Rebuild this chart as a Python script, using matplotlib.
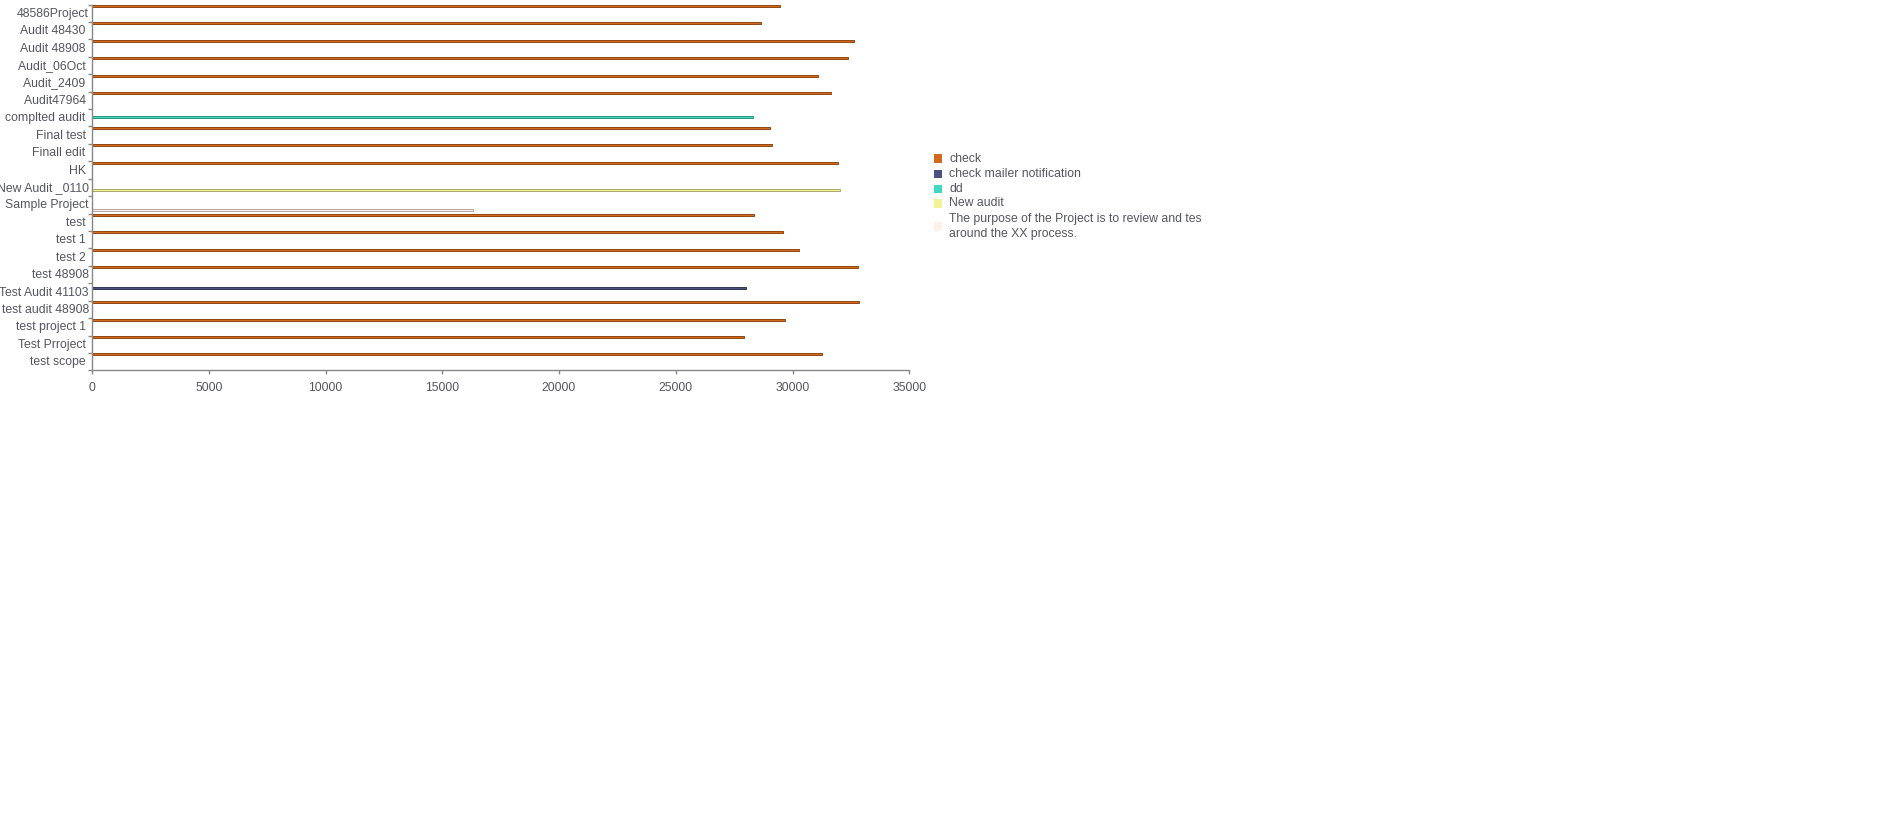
import matplotlib
matplotlib.use("Agg")
import matplotlib.pyplot as plt
from matplotlib.patches import Rectangle
import numpy as np

# ---- data ----
categories = ["48586Project", "Audit 48430 ", "Audit 48908 ", "Audit_06Oct ", "Audit_2409 ",
              "Audit47964 ", "complted audit ", "Final test ", "Finall edit ", "HK ",
              "New Audit _0110", "Sample Project", "test ", "test 1 ", "test 2 ",
              "test 48908", "Test Audit 41103", "test audit 48908", "test project 1 ",
              "Test Prroject ", "test scope "]
series_names = ["check", "check mailer notification", "dd", "New audit",
                "The purpose of the Project is to review and tes\naround the XX process."]
series_colors = ["#d2691e", "#4b5282", "#40d8c0", "#f2f296", "#fff0ea"]

check = [29480, 28660, 32650, 32390, 31100, 31660, 0, 29050, 29140, 31960,
         0, 0, 28360, 29610, 30290, 32820, 0, 32860, 29690, 27940, 31280]
check_mailer = [0, 0, 0, 0, 0, 0, 0, 0, 0, 0,
                0, 0, 0, 0, 0, 0, 28020, 0, 0, 0, 0]
dd = [0, 0, 0, 0, 0, 0, 28320, 0, 0, 0,
      0, 0, 0, 0, 0, 0, 0, 0, 0, 0, 0]
new_audit = [0, 0, 0, 0, 0, 0, 0, 0, 0, 0,
             32030, 0, 0, 0, 0, 0, 0, 0, 0, 0, 0]
purpose = [0, 0, 0, 0, 0, 0, 0, 0, 0, 0,
           0, 16310, 0, 0, 0, 0, 0, 0, 0, 0, 0]
series_values = [check, check_mailer, dd, new_audit, purpose]
x_ticks = [0, 5000, 10000, 15000, 20000, 25000, 30000, 35000]

# ---- layout ----
W, H = 1892, 817
DPI = 100
fig = plt.figure(figsize=(W / DPI, H / DPI), dpi=DPI)
fig.patch.set_facecolor("white")

def px_to_fig(x, y):
    return x / W, 1 - y / H

left_px, right_px, top_px, bottom_px = 92, 909.3, 4.5, 370.5
ax = fig.add_axes([left_px / W, 1 - bottom_px / H,
                   (right_px - left_px) / W, (bottom_px - top_px) / H])

FONT = "Liberation Sans"
FS = 12.2 * 72 / DPI
TXT = "#555560"
AXC = "#888888"

n = len(categories)
band_px = (bottom_px - top_px) / n

def darker(c, k=0.7):
    rgb = matplotlib.colors.to_rgb(c)
    return tuple(v * k for v in rgb)

bar_h = 2.0 / band_px
for j, (vals, col) in enumerate(zip(series_values, series_colors)):
    off = (1.3 + 3.2 * j) / band_px
    ys = [i + off for i, v in enumerate(vals) if v > 0]
    xs = [v for v in vals if v > 0]
    ax.barh(ys, xs, height=bar_h, color=col, edgecolor=darker(col),
            linewidth=0.72, align="center")

ax.set_xlim(0, 35000)
ax.set_ylim(n, 0)

for s in ["top", "right"]:
    ax.spines[s].set_visible(False)
for s in ["left", "bottom"]:
    ax.spines[s].set_color(AXC)
    ax.spines[s].set_linewidth(1.0)

ax.set_xticks(x_ticks)
ax.set_xticklabels([str(t) for t in x_ticks], fontfamily=FONT, fontsize=FS, color=TXT)
ax.tick_params(axis="x", length=3.2, width=1.0, color=AXC, pad=4.8)

ax.set_yticks(np.arange(0, n + 1))
ax.set_yticklabels([])
ax.set_yticks(np.arange(n) + 0.5 - 1.0 / band_px, minor=True)
ax.set_yticklabels(categories, minor=True, fontfamily=FONT, fontsize=FS, color=TXT)
ax.tick_params(axis="y", which="major", length=3.0, width=1.0, color=AXC)
ax.tick_params(axis="y", which="minor", length=0, pad=2.2)

# ---- legend ----
leg_y = [158.5, 174, 189, 203.5, 226.5]
for name, col, yc in zip(series_names, series_colors, leg_y):
    x0, y0 = px_to_fig(934, yc + 4)
    fig.patches.append(Rectangle((x0, y0), 8 / W, 8 / H, transform=fig.transFigure,
                                 facecolor=col, edgecolor="none", figure=fig))
    tx, ty = px_to_fig(949, yc)
    fig.text(tx, ty, name, fontfamily=FONT, fontsize=FS, color=TXT,
             va="center", ha="left", linespacing=1.3)

fig.savefig("out.png", dpi=DPI, facecolor="white")
